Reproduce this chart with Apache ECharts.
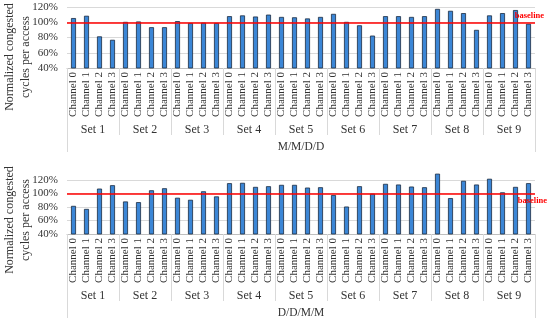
<!DOCTYPE html>
<html><head><meta charset="utf-8">
<script src="https://cdn.jsdelivr.net/npm/echarts@6/dist/echarts.min.js"></script>
<style>html,body{margin:0;padding:0;background:#fff}#c{width:550px;height:324px}</style>
</head><body><div id="c"></div>
<script>
const channelNames = ['Channel 0','Channel 1','Channel 2','Channel 3'];
const setNames = ['Set 1','Set 2','Set 3','Set 4','Set 5','Set 6','Set 7','Set 8','Set 9'];
const topTitle = 'M/M/D/D';
const bottomTitle = 'D/D/M/M';
const yTitle = 'Normalized congested\ncycles per access';
const baselineValue = 100;
const baselineLabel = 'baseline';
// values in %
const valuesMMDD = [
  105.5, 108.5, 81.5, 77,
  100.5, 101, 93.5, 93.5,
  101.5, 99, 99.5, 99,
  108, 109, 107.5, 110,
  107, 106.5, 105, 107,
  111, 100.5, 96, 82.5,
  108, 108, 107, 108,
  117.5, 115, 112, 90,
  109, 112, 116, 98
];
const valuesDDMM = [
  81.5, 77, 107, 112,
  88, 87, 104.5, 107.5,
  93.5, 90.5, 103, 95.5,
  115, 115.5, 109.5, 110.5,
  112.5, 112.5, 108.5, 109,
  97.5, 80.5, 110.5, 99.5,
  114, 113, 110, 109,
  129, 93, 118.5, 113,
  121.5, 101.5, 109.5, 115
];
const categories = [];
setNames.forEach(() => channelNames.forEach(c => categories.push(c)));

const FONT = 'Liberation Serif';
const TXT = '#333';
const GRID = '#d9d9d9';

function panel(idx, title, yMax) {
  const grid = idx === 0
    ? {left: 67, right: 15, top: 7, height: 61, outerBoundsMode: 'none', containLabel: false}
    : {left: 67, right: 15, top: 173, height: 61, outerBoundsMode: 'none', containLabel: false};
  const xAxes = [
    {gridIndex: idx, type: 'category', data: categories, position: 'bottom',
     axisLine: {show: true, lineStyle: {color: '#bfbfbf', width: 1}},
     axisTick: {show: false},
     axisLabel: {rotate: 90, margin: 4, fontFamily: FONT, fontSize: 11, color: TXT, interval: 0}},
    {gridIndex: idx, type: 'category', data: setNames, position: 'bottom',
     axisLine: {show: false},
     axisTick: {show: true, length: 67, lineStyle: {color: GRID}},
     axisLabel: {margin: 56, fontFamily: FONT, fontSize: 12, color: TXT, interval: 0},
     name: title, nameLocation: 'middle', nameGap: 73,
     nameTextStyle: {fontFamily: FONT, fontSize: 11.5, color: TXT}},
    {gridIndex: idx, type: 'category', data: [''], position: 'bottom',
     axisLine: {show: false},
     axisTick: {show: true, length: 84, lineStyle: {color: GRID}},
     axisLabel: {show: false}}
  ];
  const splitColors = [];
  const nTicks = Math.floor((yMax - 40) / 20) + 1 + ((yMax - 40) % 20 ? 1 : 0);
  for (let i = 0; i < nTicks; i++) splitColors.push(GRID);
  if ((yMax - 40) % 20) splitColors[nTicks - 1] = 'rgba(0,0,0,0)';
  const yAxis = {gridIndex: idx, type: 'value', min: 40, max: yMax, interval: 20,
    axisLine: {show: false}, axisTick: {show: false},
    axisLabel: {formatter: '{value}%', fontFamily: FONT, fontSize: 11, color: TXT, margin: 9, showMaxLabel: (yMax - 40) % 20 === 0},
    splitLine: {show: true, lineStyle: {color: splitColors, width: 1}}};
  return {grid, xAxes, yAxis};
}

const p0 = panel(0, topTitle, 120);
const p1 = panel(1, bottomTitle, 130);

function barSeries(idx, data, labelPos, dist) {
  return {
    type: 'bar', xAxisIndex: idx * 3, yAxisIndex: idx, data: data, barWidth: 5,
    itemStyle: {color: '#3b86d6', borderColor: '#1b2b40', borderWidth: 0.8},
    animation: false,
    markLine: {
      symbol: 'none', silent: true, animation: false,
      lineStyle: {color: '#ff0000', width: 1.6, type: 'solid'},
      label: {show: true, position: labelPos, formatter: baselineLabel, distance: dist,
        color: '#ff0000', fontFamily: FONT, fontWeight: 'bold', fontSize: 8.5},
      data: [{yAxis: baselineValue}]
    }
  };
}

function yTitleText(cy) {
  return {type: 'text', x: 18, y: cy, rotation: Math.PI / 2, silent: true,
    style: {text: yTitle, align: 'center', verticalAlign: 'middle', fill: TXT,
      font: '12px "Liberation Serif"', lineHeight: 16}};
}

const chart = echarts.init(document.getElementById('c'), null, {renderer: 'canvas'});
chart.setOption({
  animation: false,
  backgroundColor: '#fff',
  grid: [p0.grid, p1.grid],
  xAxis: [...p0.xAxes, ...p1.xAxes],
  yAxis: [p0.yAxis, p1.yAxis],
  graphic: [yTitleText(57), yTitleText(220)],
  series: [
    barSeries(0, valuesMMDD, 'insideEndTop', [-9, 2]),
    barSeries(1, valuesDDMM, 'insideEndBottom', [-12, 3])
  ]
});
</script></body></html>
